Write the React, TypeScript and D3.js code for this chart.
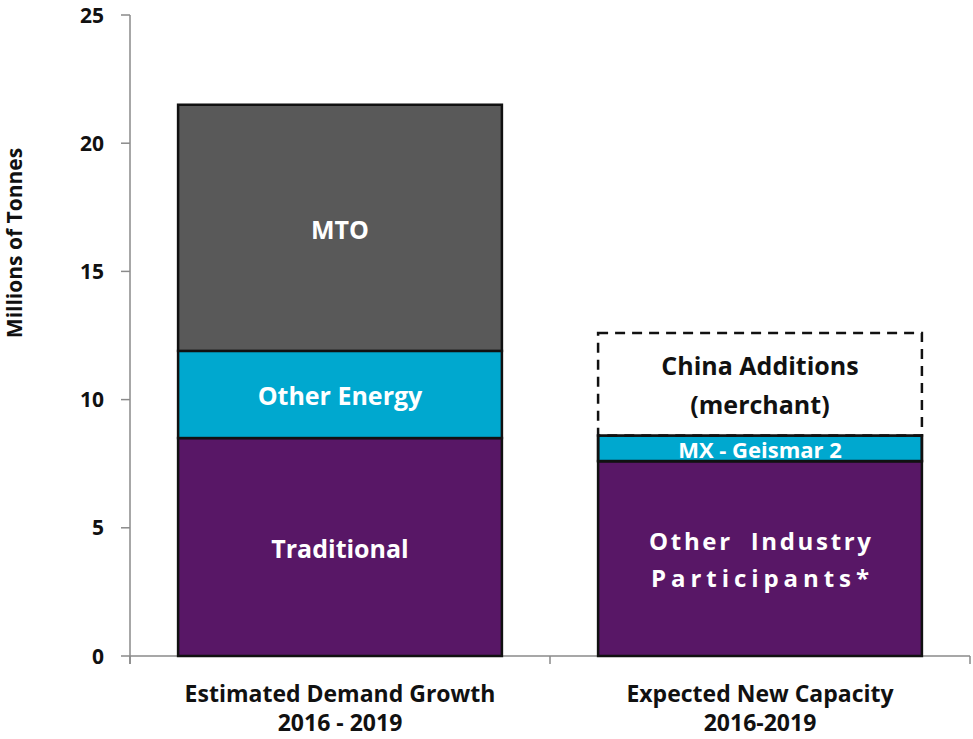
import React from "react";
import * as d3 from "d3";

const categories = ["Estimated Demand Growth|2016 - 2019", "Expected New Capacity|2016-2019"];
const baseValues = [8.5, 7.6];
const middleValues = [3.4, 1.0];
const topValues = [9.6, 4.0];
const baseLabels = ["Traditional", "Other  Industry|Participants*"];
const middleLabels = ["Other Energy", "MX - Geismar 2"];
const topLabels = ["MTO", "China Additions|(merchant)"];
const yTicks = [0, 5, 10, 15, 20, 25];

const keys = ["base", "middle", "top"];
const table = categories.map((c, i) => ({
  cat: c,
  base: baseValues[i],
  middle: middleValues[i],
  top: topValues[i],
}));

const W = 973;
const H = 739;
const FONT = "'Open Sans', 'DejaVu Sans', sans-serif";

export default function App() {
  const y = d3.scaleLinear().domain([0, 25]).range([656, 15]);
  const x = d3
    .scaleBand<string>()
    .domain(categories)
    .range([130, 970])
    .paddingInner(0.229)
    .paddingOuter(0.1145);
  const stack = d3.stack<any>().keys(keys);
  const series = stack(table);

  const fills: Record<string, string[]> = {
    base: ["#581766", "#581766"],
    middle: ["#00a8cf", "#00a8cf"],
    top: ["#595959", "#ffffff"],
  };
  const labelSets: Record<string, string[]> = {
    base: baseLabels,
    middle: middleLabels,
    top: topLabels,
  };
  const labelColor: Record<string, string[]> = {
    base: ["#fff", "#fff"],
    middle: ["#fff", "#fff"],
    top: ["#fff", "#111"],
  };
  const labelSize: Record<string, number[]> = {
    base: [25, 24],
    middle: [25, 22],
    top: [25, 25],
  };
  const lineLengths: Record<string, (number | undefined)[][]> = {
    base: [[undefined], [222, 218]],
    middle: [[undefined], [undefined]],
    top: [[undefined], [undefined, undefined]],
  };
  const lineGap: Record<string, number[]> = {
    base: [0, 37],
    middle: [0, 0],
    top: [0, 39],
  };

  const bw = x.bandwidth();
  const step = x.step();

  return (
    <svg
      width={W}
      height={H}
      style={{ position: "absolute", left: 0, top: 0, background: "#fff" }}
      fontFamily={FONT}
    >
      {/* y axis */}
      <line x1={130} x2={130} y1={y(25)} y2={y(0) + 8} stroke="#8a8a8a" strokeWidth={1.5} />
      {yTicks.map((t) => (
        <g key={t}>
          <line x1={121} x2={130} y1={y(t)} y2={y(t)} stroke="#8a8a8a" strokeWidth={1.5} />
          <text
            x={104}
            y={y(t)}
            dy="0.36em"
            textAnchor="end"
            fontSize={21}
            fontWeight={700}
            fill="#111"
          >
            {t}
          </text>
        </g>
      ))}
      {/* x axis */}
      <line x1={130} x2={970} y1={y(0)} y2={y(0)} stroke="#8a8a8a" strokeWidth={1.5} />
      {[0, 1, 2].map((i) => (
        <line
          key={i}
          x1={130 + i * step}
          x2={130 + i * step}
          y1={y(0)}
          y2={y(0) + 8}
          stroke="#8a8a8a"
          strokeWidth={1.5}
        />
      ))}

      {/* bars */}
      {series.map((s) =>
        s.map((d, i) => {
          const key = s.key;
          const x0 = x(categories[i])!;
          const dashed = key === "top" && i === 1;
          return (
            <rect
              key={key + i}
              x={x0}
              y={y(d[1])}
              width={bw}
              height={y(d[0]) - y(d[1])}
              fill={fills[key][i]}
              stroke="#111"
              strokeWidth={2.5}
              strokeDasharray={dashed ? "10 7" : undefined}
            />
          );
        })
      )}
      {/* solid outline of the segment under the dashed box */}
      {series.map((s) =>
        s.map((d, i) => {
          const key = s.key;
          if (!(key === "middle" && i === 1)) return null;
          const x0 = x(categories[i])!;
          return (
            <rect
              key={"b" + key + i}
              x={x0}
              y={y(d[1])}
              width={bw}
              height={y(d[0]) - y(d[1])}
              fill="none"
              stroke="#111"
              strokeWidth={2.5}
            />
          );
        })
      )}

      {/* labels */}
      {series.map((s) =>
        s.map((d, i) => {
          const key = s.key;
          const cx = x(categories[i])! + bw / 2;
          const cy = (y(d[0]) + y(d[1])) / 2;
          const lines = labelSets[key][i].split("|");
          const gap = lineGap[key][i];
          return (
            <text
              key={"t" + key + i}
              textAnchor="middle"
              fontSize={labelSize[key][i]}
              fontWeight={700}
              fill={labelColor[key][i]}
            >
              {lines.map((ln, j) => {
                const tl = lineLengths[key][i][j];
                return (
                  <tspan
                    key={j}
                    x={cx}
                    y={cy + (j - (lines.length - 1) / 2) * gap + 2}
                    dy="0.35em"
                    style={{ whiteSpace: "pre" }}
                    textLength={tl}
                    lengthAdjust={tl ? "spacing" : undefined}
                  >
                    {ln}
                  </tspan>
                );
              })}
            </text>
          );
        })
      )}

      {/* category labels */}
      {categories.map((c) => {
        const cx = x(c)! + bw / 2;
        return (
          <text key={c} textAnchor="middle" fontSize={23} fontWeight={700} fill="#111">
            {c.split("|").map((ln, j) => (
              <tspan key={j} x={cx} y={694 + j * 29} dy="0.35em">
                {ln}
              </tspan>
            ))}
          </text>
        );
      })}

      {/* y axis title */}
      <text
        transform={`translate(15,243) rotate(-90)`}
        textAnchor="middle"
        dy="0.35em"
        fontSize={21}
        fontWeight={700}
        fill="#111"
      >
        Millions of Tonnes
      </text>
    </svg>
  );
}
